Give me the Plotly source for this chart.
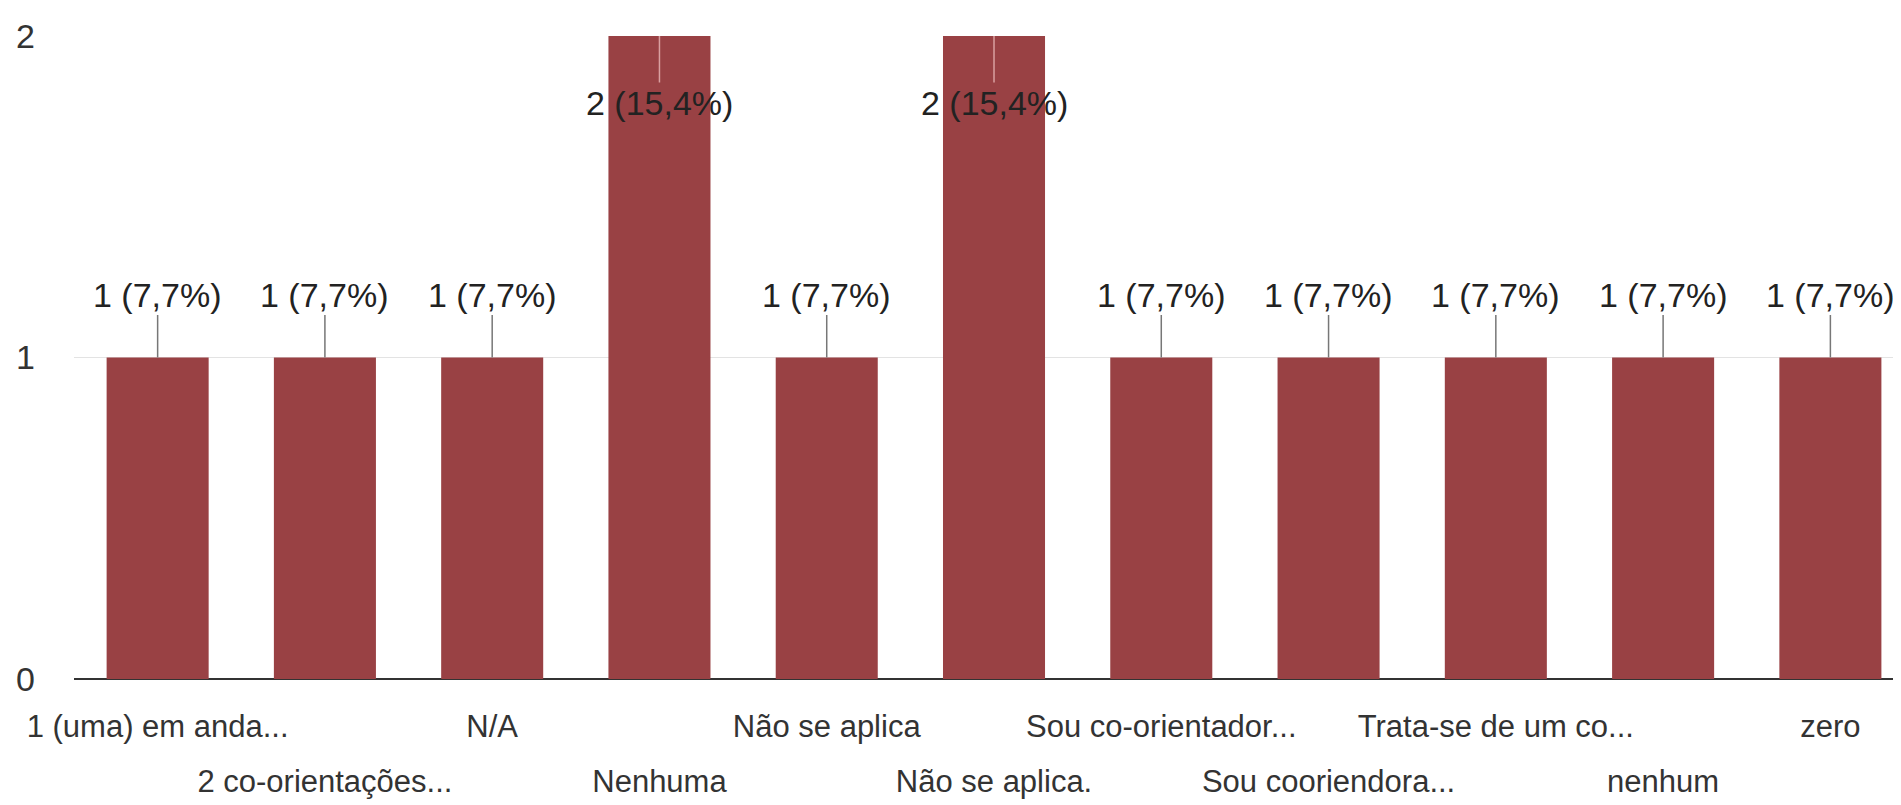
import plotly.graph_objects as go

categories = [
    "1 (uma) em anda...", "2 co-orientações...", "N/A", "Nenhuma",
    "Não se aplica", "Não se aplica.", "Sou co-orientador...", "Sou cooriendora...",
    "Trata-se de um co...", "nenhum", "zero",
]
counts = [1, 1, 1, 2, 1, 2, 1, 1, 1, 1, 1]
y_ticks = [0, 1, 2]

total = sum(counts)
FONT = "Liberation Sans Narrow, Arial Narrow, Liberation Sans, Arial, sans-serif"
BAR = "#994144"
TXT = "#333333"

fig = go.Figure()
fig.add_trace(go.Bar(x=categories, y=counts, marker=dict(color=BAR, line=dict(width=0)),
                     hoverinfo="x+y"))
# invisible companion trace carrying the second row of category labels
fig.add_trace(go.Scatter(x=categories, y=counts, xaxis="x2", mode="markers",
                         marker=dict(opacity=0), hoverinfo="skip"))

row1 = [c for i, c in enumerate(categories) if i % 2 == 0]
row2 = [c for i, c in enumerate(categories) if i % 2 == 1]

ymax = max(y_ticks)
for c, v in zip(categories, counts):
    label = f"{v} ({v / total * 100:.1f}%)".replace(".", ",")
    inside = v >= ymax
    fig.add_annotation(
        x=c, y=v, text=label, showarrow=True, arrowhead=0, arrowwidth=1.5,
        arrowcolor="#d9a0a0" if inside else "#777777",
        ax=0, ay=67 if inside else -63, standoff=0,
        font=dict(family=FONT, size=34, color="#222222"),
    )

xr = [-0.5, 10.47]
fig.update_layout(
    width=1901, height=805,
    margin=dict(l=66, r=0, t=28, b=134),
    paper_bgcolor="white", plot_bgcolor="white",
    bargap=0.39, showlegend=False,
    font=dict(family=FONT, size=33, color=TXT),
    xaxis=dict(
        type="category", range=xr, tickmode="array", tickvals=row1, ticktext=row1,
        tickangle=0, showgrid=False, zeroline=False, showline=False, ticks="",
        automargin=False, ticklabelstandoff=26,
        tickfont=dict(family=FONT, size=31, color=TXT),
    ),
    xaxis2=dict(
        type="category", overlaying="x", matches="x", side="bottom", anchor="y",
        range=xr, tickmode="array", tickvals=row2, ticktext=row2,
        tickangle=0, showgrid=False, zeroline=False, showline=False, ticks="",
        automargin=False, ticklabelstandoff=81,
        tickfont=dict(family=FONT, size=31, color=TXT),
    ),
    yaxis=dict(
        range=[0, ymax], tickvals=y_ticks, showgrid=True, gridcolor="#e3e3e3", gridwidth=1,
        zeroline=True, zerolinecolor="#333333", zerolinewidth=2,
        ticks="", showline=False, automargin=False, ticklabelstandoff=38,
        tickfont=dict(family=FONT, size=34, color=TXT),
    ),
)

fig.write_html("out.html")
